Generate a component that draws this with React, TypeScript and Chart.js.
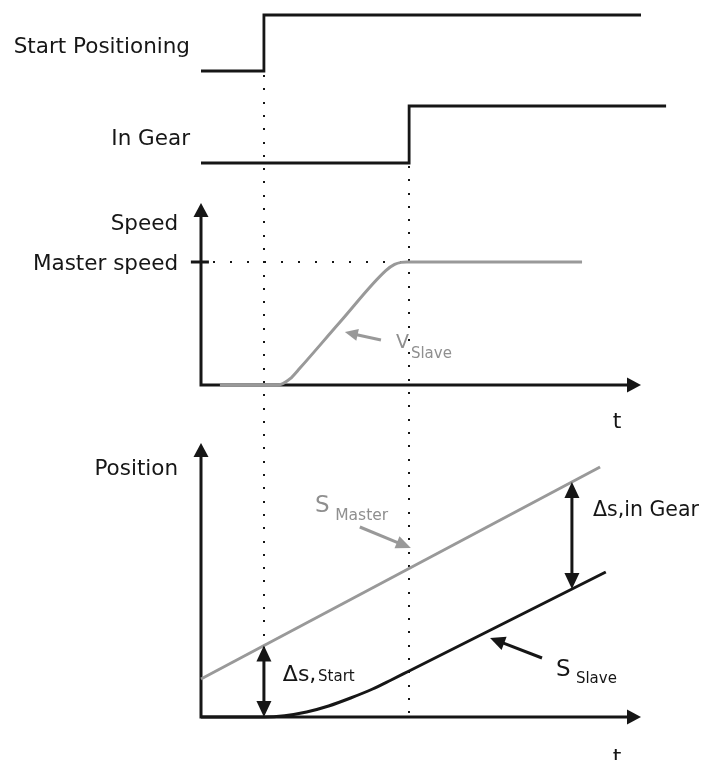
import React, { useEffect, useRef } from "react";
import { Chart, registerables } from "chart.js";

Chart.register(...registerables);

// ---- Timing (time units) ----
const T_START = 1.43; // "Start Positioning" rising edge
const T_GEAR = 4.73; // "In Gear" rising edge
const T_AXIS_END = 10; // arrow tip of both time axes

// ---- Digital signals (0 = low, 1 = high) ----
const startPosT = [0, T_START, T_START, 10];
const startPosV = [0, 0, 1, 1];
const inGearT = [0, T_GEAR, T_GEAR, 10.57];
const inGearV = [0, 0, 1, 1];

// ---- Speed (master speed = 1) ----
const MASTER_SPEED = 1;
const SPEED_AXIS_TOP = 1.48;
const speedT = [0.43, 1.73, 1.86, 2.02, 2.25, 3.16, 4.2, 4.4, 4.55, 4.68, 8.66];
const speedV = [0, 0, 0.012, 0.049, 0.138, 0.512, 0.93, 0.98, 0.997, 1, 1];

// ---- Position ----
const POS_AXIS_TOP = 27.4;
const masterPosT = [0, 9.07];
const masterPosV = [3.8, 25.0];
const slavePosT = [0, 1.43, 1.9, 2.4, 2.9, 3.4, 3.9, 4.3, 4.73, 9.2];
const slavePosV = [0, 0, 0.13, 0.5, 1.1, 1.9, 2.8, 3.65, 4.6, 14.5];

// ---- Difference markers ----
const T_DELTA_GEAR = 8.43;

// ---- Labels ----
const signalLabels = ["Start Positioning", "In Gear"];
const speedLabels = ["Speed", "Master speed"];
const positionLabel = "Position";
const timeLabel = "t";

const BLACK = "#161616";
const GRAY = "#999999";
const GRAY_TEXT = "#8f8f8f";
const FONT = '"DejaVu Sans", Verdana, sans-serif';

const lerp = (ts: number[], vs: number[], t: number) => {
  for (let i = 0; i < ts.length - 1; i++) {
    if (t >= ts[i] && t <= ts[i + 1]) {
      const f = (t - ts[i]) / (ts[i + 1] - ts[i] || 1);
      return vs[i] + f * (vs[i + 1] - vs[i]);
    }
  }
  return vs[vs.length - 1];
};

const pts = (ts: number[], vs: number[]) => ts.map((t, i) => ({ x: t, y: vs[i] }));

function head(ctx: CanvasRenderingContext2D, tx: number, ty: number, fx: number, fy: number, len: number, w: number, color: string) {
  const a = Math.atan2(ty - fy, tx - fx);
  const bx = tx - len * Math.cos(a);
  const by = ty - len * Math.sin(a);
  const nx = -Math.sin(a) * (w / 2);
  const ny = Math.cos(a) * (w / 2);
  ctx.fillStyle = color;
  ctx.beginPath();
  ctx.moveTo(tx, ty);
  ctx.lineTo(bx + nx, by + ny);
  ctx.lineTo(bx - nx, by - ny);
  ctx.closePath();
  ctx.fill();
}

function arrow(ctx: CanvasRenderingContext2D, fx: number, fy: number, tx: number, ty: number, color: string, len = 14, w = 13, lw = 3) {
  const a = Math.atan2(ty - fy, tx - fx);
  ctx.strokeStyle = color;
  ctx.lineWidth = lw;
  ctx.lineCap = "butt";
  ctx.beginPath();
  ctx.moveTo(fx, fy);
  ctx.lineTo(tx - (len - 2) * Math.cos(a), ty - (len - 2) * Math.sin(a));
  ctx.stroke();
  head(ctx, tx, ty, fx, fy, len, w, color);
}

function dblArrow(ctx: CanvasRenderingContext2D, x: number, y1: number, y2: number) {
  ctx.strokeStyle = BLACK;
  ctx.lineWidth = 3;
  ctx.beginPath();
  ctx.moveTo(x, y1 + 12);
  ctx.lineTo(x, y2 - 12);
  ctx.stroke();
  head(ctx, x, y1, x, y2, 16, 15, BLACK);
  head(ctx, x, y2, x, y1, 16, 15, BLACK);
}

function text(ctx: CanvasRenderingContext2D, s: string, x: number, y: number, size: number, color: string, align: CanvasTextAlign = "left") {
  ctx.font = `${size}px ${FONT}`;
  ctx.fillStyle = color;
  ctx.textAlign = align;
  ctx.textBaseline = "alphabetic";
  ctx.fillText(s, x, y);
}

const diagramPlugin = {
  id: "diagram",
  beforeDatasetsDraw(chart: any) {
    const ctx: CanvasRenderingContext2D = chart.ctx;
    const X = (t: number) => chart.scales.x.getPixelForValue(t);
    const Y = (id: string, v: number) => chart.scales[id].getPixelForValue(v);
    ctx.save();

    // dotted guide lines at the two events
    const dotV = (t: number, yTop: number, yBot: number) => {
      ctx.fillStyle = BLACK;
      const x = Math.round(X(t));
      for (let y = yTop; y <= yBot; y += 13.3) ctx.fillRect(x - 1, Math.round(y) - 1, 2, 2);
    };
    dotV(T_START, Y("ySP", 0) + 5, Y("yPos", 0) - 2);
    dotV(T_GEAR, Y("yIG", 0) + 4, Y("yPos", 0) - 2);

    // master speed dotted level
    {
      const y = Math.round(Y("ySpeed", MASTER_SPEED));
      ctx.fillStyle = BLACK;
      for (let x = X(0.3); x < X(4.55); x += 17) ctx.fillRect(Math.round(x) - 1, y - 1, 2, 2);
    }

    // axes
    const axes = (id: string, top: number) => {
      const ox = X(0);
      const oy = Y(id, 0);
      const ty = Y(id, top);
      const tx = X(T_AXIS_END);
      ctx.strokeStyle = BLACK;
      ctx.lineWidth = 3;
      ctx.lineCap = "butt";
      ctx.beginPath();
      ctx.moveTo(ox, ty + 12);
      ctx.lineTo(ox, oy + 1.5);
      ctx.moveTo(ox - 1.5, oy);
      ctx.lineTo(tx - 12, oy);
      ctx.stroke();
      head(ctx, ox, ty, ox, oy, 14, 15, BLACK);
      head(ctx, tx, oy, ox, oy, 14, 15, BLACK);
    };
    axes("ySpeed", SPEED_AXIS_TOP);
    axes("yPos", POS_AXIS_TOP);

    // master speed tick
    ctx.strokeStyle = BLACK;
    ctx.lineWidth = 3;
    ctx.beginPath();
    ctx.moveTo(X(-0.23), Y("ySpeed", MASTER_SPEED));
    ctx.lineTo(X(0.18), Y("ySpeed", MASTER_SPEED));
    ctx.stroke();
    ctx.restore();
  },
  afterDatasetsDraw(chart: any) {
    const ctx: CanvasRenderingContext2D = chart.ctx;
    const X = (t: number) => chart.scales.x.getPixelForValue(t);
    const Y = (id: string, v: number) => chart.scales[id].getPixelForValue(v);
    ctx.save();

    // left labels
    text(ctx, signalLabels[0], X(-0.25), Y("ySP", 0.32), 21.5, BLACK, "right");
    text(ctx, signalLabels[1], X(-0.25), Y("yIG", 0.316), 21.5, BLACK, "right");
    text(ctx, speedLabels[0], X(-0.52), Y("ySpeed", 1.26), 21.5, BLACK, "right");
    text(ctx, speedLabels[1], X(-0.52), Y("ySpeed", 0.935), 21.5, BLACK, "right");
    text(ctx, positionLabel, X(-0.52), Y("yPos", 24.2), 21.5, BLACK, "right");
    text(ctx, timeLabel, X(9.36), Y("ySpeed", -0.35), 22, BLACK);
    text(ctx, timeLabel, X(9.36), Y("yPos", -4.7), 22, BLACK);

    // V_Slave pointer
    arrow(ctx, X(4.09), Y("ySpeed", 0.366), X(3.27), Y("ySpeed", 0.43), GRAY, 13, 12, 3);
    text(ctx, "V", X(4.43), Y("ySpeed", 0.30), 19, GRAY_TEXT);
    text(ctx, "Slave", X(4.77), Y("ySpeed", 0.22), 15, GRAY_TEXT);

    // S_Master pointer
    arrow(ctx, X(3.61), Y("yPos", 19.0), X(4.77), Y("yPos", 16.9), GRAY, 15, 13, 3);
    text(ctx, "S", X(2.59), Y("yPos", 20.5), 23, GRAY_TEXT);
    text(ctx, "Master", X(3.05), Y("yPos", 19.7), 15.5, GRAY_TEXT);

    // S_Slave pointer
    arrow(ctx, X(7.75), Y("yPos", 5.9), X(6.57), Y("yPos", 7.9), BLACK, 15, 14, 3);
    text(ctx, "S", X(8.07), Y("yPos", 4.1), 23, BLACK);
    text(ctx, "Slave", X(8.52), Y("yPos", 3.4), 15, BLACK);

    // delta markers
    const mStart = lerp(masterPosT, masterPosV, T_START);
    const sStart = lerp(slavePosT, slavePosV, T_START);
    dblArrow(ctx, X(T_START), Y("yPos", mStart), Y("yPos", sStart));
    text(ctx, "\u0394s,", X(1.86), Y("yPos", 3.6), 22, BLACK);
    text(ctx, "Start", X(2.66), Y("yPos", 3.6), 15, BLACK);

    const mGear = lerp(masterPosT, masterPosV, T_DELTA_GEAR);
    const sGear = lerp(slavePosT, slavePosV, T_DELTA_GEAR);
    dblArrow(ctx, X(T_DELTA_GEAR), Y("yPos", mGear), Y("yPos", sGear));
    text(ctx, "\u0394s,in Gear", X(8.91), Y("yPos", 20.1), 20.5, BLACK);

    ctx.restore();
  },
};

export default function App() {
  const ref = useRef<HTMLCanvasElement>(null);
  useEffect(() => {
    if (!ref.current) return;
    const line = (data: any, yAxisID: string, color: string, extra: any = {}) => ({
      data,
      yAxisID,
      borderColor: color,
      borderWidth: 3,
      pointRadius: 0,
      showLine: true,
      fill: false,
      clip: false,
      borderCapStyle: "butt",
      borderJoinStyle: "miter",
      ...extra,
    });
    const chart = new Chart(ref.current, {
      type: "scatter",
      data: {
        datasets: [
          line(pts(startPosT, startPosV), "ySP", BLACK, { borderWidth: 2.8 }),
          line(pts(inGearT, inGearV), "yIG", BLACK, { borderWidth: 2.8 }),
          line(pts(speedT, speedV), "ySpeed", GRAY, { cubicInterpolationMode: "monotone" }),
          line(pts(masterPosT, masterPosV), "yPos", GRAY),
          line(pts(slavePosT, slavePosV), "yPos", BLACK, { cubicInterpolationMode: "monotone" }),
        ] as any,
      },
      options: {
        animation: false,
        responsive: false,
        devicePixelRatio: 1,
        layout: { padding: 0 },
        plugins: { legend: { display: false }, tooltip: { enabled: false } },
        events: [],
        scales: {
          x: { type: "linear", display: false, min: -4.5682, max: 11.4545 },
          ySP: { type: "linear", display: false, min: -12.3036, max: 1.2679 },
          yIG: { type: "linear", display: false, min: -10.4737, max: 2.8596 },
          ySpeed: { type: "linear", display: false, min: -3.0488, max: 3.1301 },
          yPos: { type: "linear", display: false, min: -4.3, max: 71.7 },
        } as any,
      },
      plugins: [diagramPlugin as any],
    });
    return () => chart.destroy();
  }, []);
  return (
    <div style={{ position: "fixed", left: 0, top: 0, width: 705, height: 760, background: "#fff" }}>
      <canvas ref={ref} width={705} height={760} style={{ display: "block" }} />
    </div>
  );
}
